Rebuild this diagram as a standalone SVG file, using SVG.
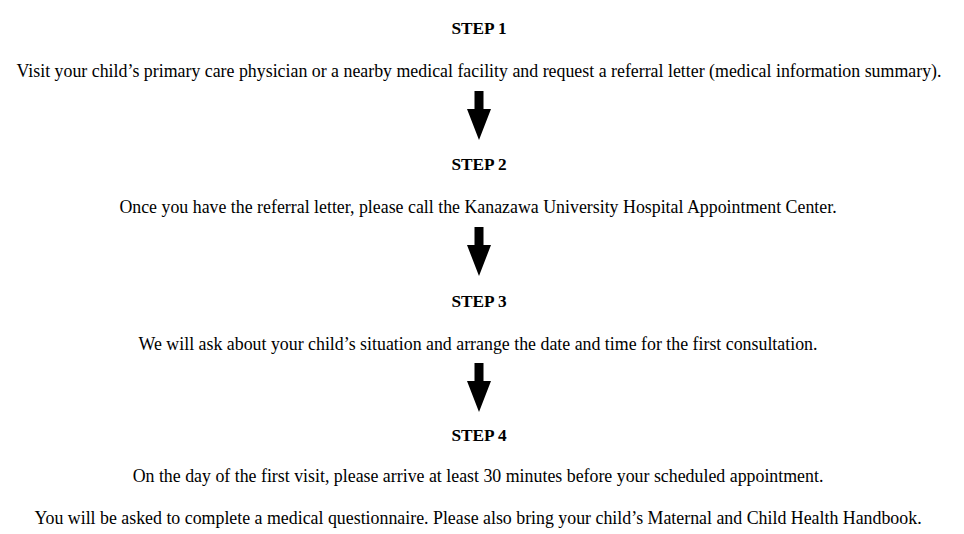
<svg xmlns="http://www.w3.org/2000/svg" width="964" height="534" viewBox="0 0 964 534">
<style>
.step{font-family:"Liberation Serif","Times New Roman",serif;font-weight:bold;font-size:17.3px;fill:#000;text-anchor:middle}
.txt{font-family:"Liberation Serif","Times New Roman",serif;font-size:17.85px;fill:#000;text-anchor:middle}
.arr{fill:#000}
</style>
<defs>
<path id="arrow" d="M-4.5,0 H4.5 V18 H12 L0,49 L-12,18 H-4.5 Z"/>
</defs>
<rect width="964" height="534" fill="#fff"/>
<g id="step1">
<text class="step" x="479" y="34">STEP 1</text>
<text class="txt" x="479" y="77">Visit your child’s primary care physician or a nearby medical facility and request a referral letter (medical information summary).</text>
</g>
<g id="step2">
<text class="step" x="479" y="170">STEP 2</text>
<text class="txt" x="478" y="213">Once you have the referral letter, please call the Kanazawa University Hospital Appointment Center.</text>
</g>
<g id="step3">
<text class="step" x="479" y="307">STEP 3</text>
<text class="txt" x="478" y="350">We will ask about your child’s situation and arrange the date and time for the first consultation.</text>
</g>
<g id="step4">
<text class="step" x="479" y="441">STEP 4</text>
<text class="txt" x="478" y="482">On the day of the first visit, please arrive at least 30 minutes before your scheduled appointment.</text>
<text class="txt" x="478" y="524">You will be asked to complete a medical questionnaire. Please also bring your child’s Maternal and Child Health Handbook.</text>
</g>
<g id="connectors" class="arr">
<use href="#arrow" x="479" y="91"/>
<use href="#arrow" x="479" y="227"/>
<use href="#arrow" x="479" y="363"/>
</g>
</svg>
